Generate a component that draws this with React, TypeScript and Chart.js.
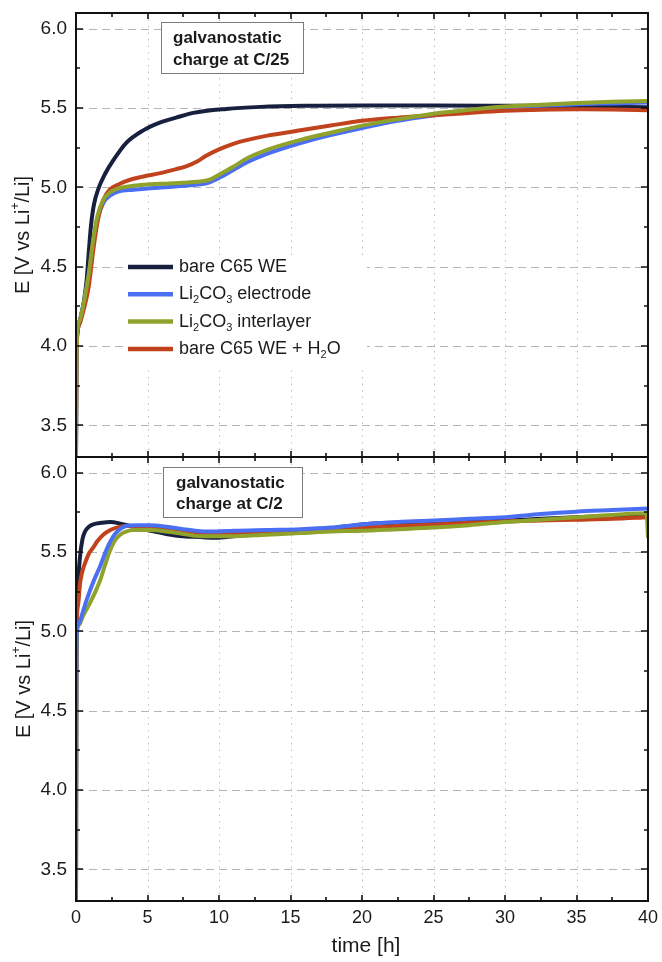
import React, { useEffect, useRef } from "react";
import { Chart, registerables } from "chart.js";

Chart.register(...registerables);

const FONT = '"Liberation Sans", Arial, Helvetica, sans-serif';
const TEXT = "#1b1b1b";

// ---------- axes ----------
const xRange = [0, 40];
const yRange = [3.3, 6.1];
const xMajorTicks = [0, 5, 10, 15, 20, 25, 30, 35, 40];
const xMinorTicks = [2.5, 7.5, 12.5, 17.5, 22.5, 27.5, 32.5, 37.5];
const yMajorTicks = [3.5, 4.0, 4.5, 5.0, 5.5, 6.0];
const yMinorTicks = [3.75, 4.25, 4.75, 5.25, 5.75];
const xAxisTitle = "time [h]";
const yAxisTitle = "E [V vs Li⁺/Li]";

// ---------- series ----------
const seriesLabels = ["bare C65 WE", "Li₂CO₃ electrode", "Li₂CO₃ interlayer", "bare C65 WE + H₂O"];
const seriesColors = ["#17213f", "#4b6ff3", "#8fa22c", "#c1431d"];

const noteC25 = ["galvanostatic", "charge at C/25"];
const noteC2 = ["galvanostatic", "charge at C/2"];

// ---------- C/25 panel ----------
const c25BareT = [0, 0.03, 0.1, 0.3, 0.55, 0.75, 0.9, 1.05, 1.25, 1.6, 2.0, 2.6, 3.5, 4.7, 5.9, 7.0, 8.2, 10.5, 12.9, 16, 20, 25, 30, 35, 40];
const c25BareE = [3.3, 3.9, 4.08, 4.17, 4.28, 4.42, 4.6, 4.76, 4.89, 5.0, 5.08, 5.17, 5.28, 5.36, 5.41, 5.44, 5.47, 5.495, 5.508, 5.515, 5.517, 5.517, 5.515, 5.512, 5.505];

const c25ElecT = [0, 0.03, 0.1, 0.3, 0.6, 0.9, 1.2, 1.5, 1.9, 2.4, 3.0, 4.0, 5.2, 6.5, 7.5, 8.5, 9.2, 10, 11, 12, 13.3, 15.7, 17.8, 20, 22.5, 25, 27.5, 30, 32.5, 35, 37.5, 40];
const c25ElecE = [3.3, 3.9, 4.1, 4.17, 4.3, 4.45, 4.65, 4.8, 4.9, 4.95, 4.975, 4.985, 4.995, 5.003, 5.01, 5.018, 5.028, 5.06, 5.11, 5.16, 5.21, 5.28, 5.33, 5.375, 5.42, 5.455, 5.485, 5.505, 5.515, 5.525, 5.53, 5.535];

const c25InterT = [0, 0.03, 0.1, 0.3, 0.6, 0.9, 1.2, 1.5, 1.9, 2.4, 3.0, 4.0, 5.2, 6.5, 7.5, 8.5, 9.3, 10, 11, 12, 13.3, 15.7, 17.8, 20, 22.5, 25, 27.5, 30, 32.5, 35, 37.5, 40];
const c25InterE = [3.3, 3.9, 4.1, 4.17, 4.3, 4.46, 4.67, 4.82, 4.92, 4.97, 4.995, 5.01, 5.02, 5.025, 5.03, 5.036, 5.047, 5.08, 5.13, 5.185, 5.235, 5.3, 5.345, 5.39, 5.43, 5.465, 5.49, 5.51, 5.522, 5.532, 5.54, 5.545];

const c25WaterT = [0, 0.03, 0.1, 0.3, 0.6, 0.9, 1.2, 1.5, 1.9, 2.4, 3.0, 3.5, 4.5, 5.9, 7.0, 7.7, 8.5, 9.1, 10, 11, 12, 13.3, 15.7, 17.8, 20, 22.5, 25, 27.5, 30, 32.5, 35, 37.5, 40];
const c25WaterE = [3.3, 3.9, 4.08, 4.15, 4.25, 4.38, 4.6, 4.78, 4.92, 4.99, 5.02, 5.04, 5.065, 5.09, 5.115, 5.133, 5.165, 5.2, 5.24, 5.275, 5.3, 5.325, 5.36, 5.39, 5.42, 5.44, 5.455, 5.47, 5.483, 5.49, 5.493, 5.492, 5.487];

// ---------- C/2 panel ----------
const c2BareT = [0, 0.02, 0.05, 0.1, 0.28, 0.45, 0.63, 0.9, 1.2, 1.8, 2.4, 3.1, 4.0, 5.2, 6.3, 7.5, 8.7, 9.8, 11, 12, 13.3, 15.7, 17.8, 20, 22.5, 25, 27.5, 30, 32.5, 35, 37.5, 40];
const c2BareE = [3.3, 4.6, 5.1, 5.25, 5.47, 5.58, 5.63, 5.66, 5.675, 5.685, 5.69, 5.68, 5.66, 5.635, 5.615, 5.6, 5.595, 5.59, 5.6, 5.61, 5.615, 5.635, 5.65, 5.675, 5.685, 5.69, 5.695, 5.7, 5.71, 5.72, 5.73, 5.74];

const c2ElecT = [0, 0.02, 0.05, 0.2, 0.5, 0.75, 1.2, 1.68, 2.2, 2.61, 3.0, 3.5, 4.2, 5.2, 6.3, 7.5, 8.7, 9.8, 11, 13.3, 15.7, 17.8, 20, 22.5, 25, 27.5, 30, 32.5, 35, 37.5, 40];
const c2ElecE = [3.3, 4.6, 4.98, 5.05, 5.13, 5.2, 5.31, 5.41, 5.53, 5.6, 5.64, 5.665, 5.67, 5.67, 5.66, 5.645, 5.632, 5.63, 5.635, 5.64, 5.645, 5.655, 5.675, 5.69, 5.7, 5.71, 5.72, 5.74, 5.755, 5.765, 5.775];

const c2InterT = [0, 0.02, 0.05, 0.2, 0.5, 0.98, 1.3, 1.68, 2.0, 2.38, 2.7, 3.08, 3.5, 4.0, 5.2, 6.3, 7.5, 8.7, 9.8, 10.9, 13.3, 15.7, 17.8, 20, 22.5, 25, 27.5, 30, 32.5, 35, 37.5, 39.9, 40];
const c2InterE = [3.3, 4.6, 4.98, 5.04, 5.1, 5.18, 5.24, 5.32, 5.41, 5.51, 5.57, 5.61, 5.63, 5.64, 5.64, 5.63, 5.615, 5.6, 5.6, 5.6, 5.61, 5.62, 5.63, 5.635, 5.645, 5.655, 5.67, 5.69, 5.705, 5.72, 5.735, 5.745, 5.59];

const c2WaterT = [0, 0.02, 0.05, 0.15, 0.28, 0.45, 0.63, 0.9, 1.21, 1.5, 1.91, 2.4, 2.84, 3.5, 4.0, 5.2, 6.3, 7.5, 8.7, 9.8, 11, 13.3, 15.7, 17.8, 20, 22.5, 25, 27.5, 30, 32.5, 35, 37.5, 40];
const c2WaterE = [3.3, 4.6, 5.03, 5.17, 5.3, 5.38, 5.43, 5.49, 5.53, 5.57, 5.61, 5.64, 5.655, 5.665, 5.665, 5.655, 5.64, 5.625, 5.615, 5.61, 5.615, 5.62, 5.63, 5.64, 5.655, 5.665, 5.675, 5.685, 5.695, 5.7, 5.705, 5.71, 5.72];

const toPoints = (t: number[], e: number[]) => t.map((x, i) => ({ x, y: e[i] }));

// ---------- rich text (sub/superscripts) ----------
const SUBS: Record<string, string> = { "₂": "2", "₃": "3" };
const SUPS: Record<string, string> = { "⁺": "+" };
type Run = { text: string; kind: number };
function splitRuns(s: string): Run[] {
  const runs: Run[] = [];
  for (const ch of Array.from(s)) {
    const kind = SUBS[ch] ? 1 : SUPS[ch] ? 2 : 0;
    const t = SUBS[ch] || SUPS[ch] || ch;
    const last = runs[runs.length - 1];
    if (last && last.kind === kind) last.text += t;
    else runs.push({ text: t, kind });
  }
  return runs;
}
function runFont(kind: number, size: number, weight: string) {
  const s = kind === 0 ? size : Math.round(size * 0.62);
  return `${weight} ${s}px ${FONT}`;
}
function richWidth(ctx: CanvasRenderingContext2D, s: string, size: number, weight = "normal") {
  let w = 0;
  for (const r of splitRuns(s)) {
    ctx.font = runFont(r.kind, size, weight);
    w += ctx.measureText(r.text).width;
  }
  return w;
}
function drawRich(ctx: CanvasRenderingContext2D, s: string, x: number, y: number, size: number, weight = "normal") {
  let cx = x;
  ctx.textAlign = "left";
  ctx.textBaseline = "middle";
  for (const r of splitRuns(s)) {
    ctx.font = runFont(r.kind, size, weight);
    const dy = r.kind === 1 ? size * 0.33 : r.kind === 2 ? -size * 0.36 : 0;
    ctx.fillText(r.text, cx, y + dy);
    cx += ctx.measureText(r.text).width;
  }
}

type Box = { x: number; y: number; w: number; h: number };
type FrameCfg = {
  note: string[];
  noteBox: Box;
  noteTextX: number;
  noteLineY: number[];
  legend?: { box: Box; x0: number; x1: number; textX: number; row0: number; rowH: number };
  yTitle: { x: number; y: number };
  xTitle?: { x: number; y: number };
};

function makeFramePlugin(cfg: FrameCfg) {
  return {
    id: "frame",
    beforeDatasetsDraw(chart: any) {
      const { ctx, chartArea: a, scales } = chart;
      const xs = scales.x, ys = scales.y;
      ctx.save();
      ctx.lineWidth = 1;
      ctx.strokeStyle = "#b5b5b5";
      ctx.setLineDash([8, 5]);
      for (const v of yMajorTicks) {
        const y = Math.round(ys.getPixelForValue(v)) + 0.5;
        ctx.beginPath();
        ctx.moveTo(a.left, y);
        ctx.lineTo(a.right, y);
        ctx.stroke();
      }
      ctx.strokeStyle = "#bdbdbd";
      ctx.setLineDash([1.5, 5]);
      for (const v of xMajorTicks) {
        if (v <= xRange[0] || v >= xRange[1]) continue;
        const x = Math.round(xs.getPixelForValue(v)) + 0.5;
        ctx.beginPath();
        ctx.moveTo(x, a.top);
        ctx.lineTo(x, a.bottom);
        ctx.stroke();
      }
      ctx.restore();
    },
    afterDatasetsDraw(chart: any) {
      const { ctx, chartArea: a, scales } = chart;
      const xs = scales.x, ys = scales.y;
      ctx.save();
      ctx.setLineDash([]);

      // legend
      if (cfg.legend) {
        const L = cfg.legend;
        ctx.fillStyle = "#ffffff";
        ctx.fillRect(L.box.x, L.box.y, L.box.w, L.box.h);
        chart.data.datasets.forEach((ds: any, i: number) => {
          const y = L.row0 + i * L.rowH;
          ctx.strokeStyle = ds.borderColor;
          ctx.lineWidth = 4.5;
          ctx.lineCap = "butt";
          ctx.beginPath();
          ctx.moveTo(L.x0, y);
          ctx.lineTo(L.x1, y);
          ctx.stroke();
          ctx.fillStyle = TEXT;
          drawRich(ctx, ds.label, L.textX, y, 18);
        });
      }

      // note box
      const B = cfg.noteBox;
      ctx.fillStyle = "#ffffff";
      ctx.fillRect(B.x, B.y, B.w, B.h);
      ctx.strokeStyle = "#7a7a7a";
      ctx.lineWidth = 1;
      ctx.strokeRect(B.x + 0.5, B.y + 0.5, B.w, B.h);
      ctx.fillStyle = TEXT;
      cfg.note.forEach((line, i) => drawRich(ctx, line, cfg.noteTextX, cfg.noteLineY[i], 17, "bold"));

      // frame
      ctx.strokeStyle = "#111111";
      ctx.lineWidth = 2;
      ctx.strokeRect(a.left, a.top, a.right - a.left, a.bottom - a.top);

      // tick marks (inward)
      ctx.lineWidth = 1.6;
      const tickX = (vals: number[], len: number) => {
        for (const v of vals) {
          const x = Math.round(xs.getPixelForValue(v));
          ctx.beginPath();
          ctx.moveTo(x, a.top);
          ctx.lineTo(x, a.top + len);
          ctx.moveTo(x, a.bottom);
          ctx.lineTo(x, a.bottom - len);
          ctx.stroke();
        }
      };
      const tickY = (vals: number[], len: number) => {
        for (const v of vals) {
          const y = Math.round(ys.getPixelForValue(v));
          ctx.beginPath();
          ctx.moveTo(a.left, y);
          ctx.lineTo(a.left + len, y);
          ctx.moveTo(a.right, y);
          ctx.lineTo(a.right - len, y);
          ctx.stroke();
        }
      };
      tickX(xMajorTicks.filter((v) => v > xRange[0] && v < xRange[1]), 6);
      tickX(xMinorTicks, 4);
      tickY(yMajorTicks, 7);
      tickY(yMinorTicks, 4);

      // axis titles
      ctx.fillStyle = TEXT;
      const fs = 20;
      const w = richWidth(ctx, yAxisTitle, fs);
      ctx.save();
      ctx.translate(cfg.yTitle.x, cfg.yTitle.y);
      ctx.rotate(-Math.PI / 2);
      drawRich(ctx, yAxisTitle, -w / 2, 0, fs);
      ctx.restore();
      if (cfg.xTitle) {
        const wx = richWidth(ctx, xAxisTitle, 21);
        drawRich(ctx, xAxisTitle, cfg.xTitle.x - wx / 2, cfg.xTitle.y, 21);
      }
      ctx.restore();
    },
  };
}

function makeDatasets(series: { t: number[]; e: number[] }[], orders: number[]) {
  return series.map((s, i) => ({
    label: seriesLabels[i],
    data: toPoints(s.t, s.e),
    borderColor: seriesColors[i],
    backgroundColor: seriesColors[i],
    borderWidth: 4,
    pointRadius: 0,
    fill: false,
    cubicInterpolationMode: "monotone" as const,
    order: orders[i],
  }));
}

function makeOptions(showX: boolean, padding: any) {
  return {
    responsive: false,
    animation: false as const,
    events: [],
    layout: { padding },
    plugins: { legend: { display: false }, tooltip: { enabled: false } },
    scales: {
      x: {
        type: "linear" as const,
        min: xRange[0],
        max: xRange[1],
        display: showX,
        grid: { display: false, drawTicks: false },
        border: { display: false },
        afterBuildTicks: (s: any) => {
          s.ticks = xMajorTicks.map((v) => ({ value: v }));
        },
        afterFit: (s: any) => {
          s.height = showX ? 61 : 0;
          s.paddingLeft = 0;
          s.paddingRight = 0;
          s.paddingTop = 0;
          s.paddingBottom = 0;
        },
        ticks: {
          autoSkip: false,
          maxRotation: 0,
          padding: 6,
          color: TEXT,
          font: { family: FONT, size: 18 },
          callback: (v: any) => String(v),
        },
      },
      y: {
        type: "linear" as const,
        min: yRange[0],
        max: yRange[1],
        grid: { display: false, drawTicks: false },
        border: { display: false },
        afterBuildTicks: (s: any) => {
          s.ticks = yMajorTicks.map((v) => ({ value: v }));
        },
        afterFit: (s: any) => {
          s.width = 76;
          s.paddingTop = 0;
          s.paddingBottom = 0;
          s.paddingLeft = 0;
          s.paddingRight = 0;
        },
        ticks: {
          autoSkip: false,
          padding: 9,
          color: TEXT,
          font: { family: FONT, size: 19 },
          callback: (v: any) => Number(v).toFixed(1),
        },
      },
    },
  };
}

export default function App() {
  const topRef = useRef<HTMLCanvasElement>(null);
  const botRef = useRef<HTMLCanvasElement>(null);

  useEffect(() => {
    const topChart = new Chart(topRef.current as HTMLCanvasElement, {
      type: "line",
      data: {
        datasets: makeDatasets(
          [
            { t: c25BareT, e: c25BareE },
            { t: c25ElecT, e: c25ElecE },
            { t: c25InterT, e: c25InterE },
            { t: c25WaterT, e: c25WaterE },
          ],
          [4, 3, 1, 2]
        ),
      },
      options: makeOptions(false, { left: 0, right: 14, top: 13, bottom: 13 }) as any,
      plugins: [
        makeFramePlugin({
          note: noteC25,
          noteBox: { x: 161, y: 22, w: 142, h: 51 },
          noteTextX: 173,
          noteLineY: [38, 60],
          legend: { box: { x: 124, y: 255, w: 243, h: 113 }, x0: 128, x1: 173, textX: 179, row0: 267, rowH: 27.3 },
          yTitle: { x: 23, y: 235 },
        }) as any,
      ],
    });
    const botChart = new Chart(botRef.current as HTMLCanvasElement, {
      type: "line",
      data: {
        datasets: makeDatasets(
          [
            { t: c2BareT, e: c2BareE },
            { t: c2ElecT, e: c2ElecE },
            { t: c2InterT, e: c2InterE },
            { t: c2WaterT, e: c2WaterE },
          ],
          [4, 1, 2, 3]
        ),
      },
      options: makeOptions(true, { left: 0, right: 14, top: 17, bottom: 0 }) as any,
      plugins: [
        makeFramePlugin({
          note: noteC2,
          noteBox: { x: 163, y: 27, w: 139, h: 50 },
          noteTextX: 176,
          noteLineY: [43, 64],
          yTitle: { x: 24, y: 239 },
          xTitle: { x: 366, y: 506 },
        }) as any,
      ],
    });
    return () => {
      topChart.destroy();
      botChart.destroy();
    };
  }, []);

  return (
    <div style={{ position: "absolute", left: 0, top: 0, width: 662, height: 962, background: "#ffffff" }}>
      <canvas ref={topRef} width={662} height={470} style={{ position: "absolute", left: 0, top: 0 }} />
      <canvas ref={botRef} width={662} height={522} style={{ position: "absolute", left: 0, top: 440 }} />
    </div>
  );
}
